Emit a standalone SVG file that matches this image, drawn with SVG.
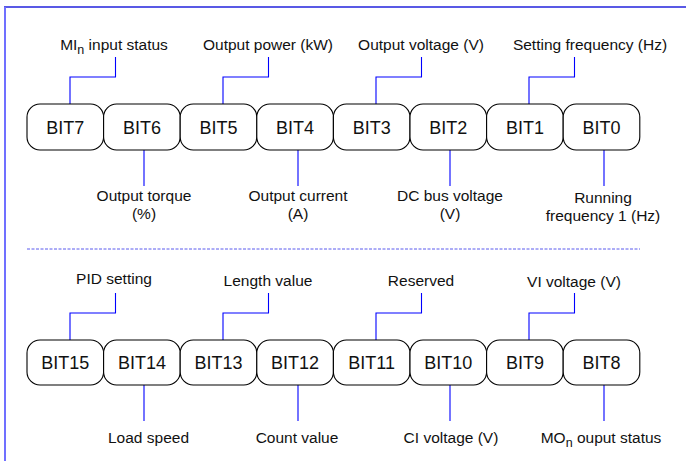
<svg xmlns="http://www.w3.org/2000/svg" width="686" height="461" viewBox="0 0 686 461">
<style>
.box{fill:#fff;stroke:#000;stroke-width:1.1}
.bt{font-family:"Liberation Sans",Arial,sans-serif;font-size:18px;fill:#111;text-anchor:middle}
.lb{font-family:"Liberation Sans",Arial,sans-serif;font-size:15.5px;fill:#111;text-anchor:middle}
.cn{fill:none;stroke:#0000ff;stroke-width:1.1}
</style>
<rect width="686" height="461" fill="#fff"/>
<g id="frame">
<line x1="4" y1="7" x2="686" y2="7" stroke="#2222dd" stroke-width="1.5"/>
<line x1="5" y1="7" x2="5" y2="461" stroke="#7070ff" stroke-width="2"/>
<line x1="27" y1="249" x2="640" y2="249" stroke="#5a5aee" stroke-width="1" stroke-dasharray="3,1.5"/>
</g>
<g id="connectors">
<path class="cn" d="M70,104V77H115.5V57"/>
<path class="cn" d="M223,104V77H268.5V57"/>
<path class="cn" d="M376,104V77H421.5V57"/>
<path class="cn" d="M529,104V77H574.5V57"/>
<path class="cn" d="M144,150V186"/>
<path class="cn" d="M298,150V186"/>
<path class="cn" d="M450,150V186"/>
<path class="cn" d="M604,150V186"/>
<path class="cn" d="M70,340V313H115.5V293"/>
<path class="cn" d="M223,340V313H268.5V293"/>
<path class="cn" d="M376,340V313H421.5V293"/>
<path class="cn" d="M529,340V313H574.5V293"/>
<path class="cn" d="M144,385V421"/>
<path class="cn" d="M298,385V421"/>
<path class="cn" d="M450,385V421"/>
<path class="cn" d="M604,385V421"/>
</g>
<g id="bit7"><rect class="box" x="27" y="104" width="76.6" height="46" rx="13"/><text class="bt" x="65.3" y="133.5">BIT7</text></g>
<g id="bit6"><rect class="box" x="103.6" y="104" width="76.6" height="46" rx="13"/><text class="bt" x="141.9" y="133.5">BIT6</text></g>
<g id="bit5"><rect class="box" x="180.2" y="104" width="76.6" height="46" rx="13"/><text class="bt" x="218.5" y="133.5">BIT5</text></g>
<g id="bit4"><rect class="box" x="256.8" y="104" width="76.6" height="46" rx="13"/><text class="bt" x="295.1" y="133.5">BIT4</text></g>
<g id="bit3"><rect class="box" x="333.4" y="104" width="76.6" height="46" rx="13"/><text class="bt" x="371.7" y="133.5">BIT3</text></g>
<g id="bit2"><rect class="box" x="410" y="104" width="76.6" height="46" rx="13"/><text class="bt" x="448.3" y="133.5">BIT2</text></g>
<g id="bit1"><rect class="box" x="486.6" y="104" width="76.6" height="46" rx="13"/><text class="bt" x="524.9" y="133.5">BIT1</text></g>
<g id="bit0"><rect class="box" x="563.2" y="104" width="76.6" height="46" rx="13"/><text class="bt" x="601.5" y="133.5">BIT0</text></g>
<g id="bit15"><rect class="box" x="27" y="340" width="76.6" height="45" rx="13"/><text class="bt" x="65.3" y="369">BIT15</text></g>
<g id="bit14"><rect class="box" x="103.6" y="340" width="76.6" height="45" rx="13"/><text class="bt" x="141.9" y="369">BIT14</text></g>
<g id="bit13"><rect class="box" x="180.2" y="340" width="76.6" height="45" rx="13"/><text class="bt" x="218.5" y="369">BIT13</text></g>
<g id="bit12"><rect class="box" x="256.8" y="340" width="76.6" height="45" rx="13"/><text class="bt" x="295.1" y="369">BIT12</text></g>
<g id="bit11"><rect class="box" x="333.4" y="340" width="76.6" height="45" rx="13"/><text class="bt" x="371.7" y="369">BIT11</text></g>
<g id="bit10"><rect class="box" x="410" y="340" width="76.6" height="45" rx="13"/><text class="bt" x="448.3" y="369">BIT10</text></g>
<g id="bit9"><rect class="box" x="486.6" y="340" width="76.6" height="45" rx="13"/><text class="bt" x="524.9" y="369">BIT9</text></g>
<g id="bit8"><rect class="box" x="563.2" y="340" width="76.6" height="45" rx="13"/><text class="bt" x="601.5" y="369">BIT8</text></g>
<g id="labels">
<text class="lb" x="114" y="50">MI<tspan font-size="12.5" dy="4">n</tspan><tspan dy="-4"> input status</tspan></text>
<text class="lb" x="268" y="50">Output power (kW)</text>
<text class="lb" x="421" y="50">Output voltage (V)</text>
<text class="lb" x="590" y="50">Setting frequency (Hz)</text>
<text class="lb" x="144" y="201">Output torque</text>
<text class="lb" x="144" y="219">(%)</text>
<text class="lb" x="298" y="201">Output current</text>
<text class="lb" x="298" y="219">(A)</text>
<text class="lb" x="450" y="201">DC bus voltage</text>
<text class="lb" x="450" y="219">(V)</text>
<text class="lb" x="603" y="203">Running</text>
<text class="lb" x="603" y="221">frequency 1 (Hz)</text>
<text class="lb" x="114" y="284">PID setting</text>
<text class="lb" x="268" y="286">Length value</text>
<text class="lb" x="421" y="286">Reserved</text>
<text class="lb" x="574" y="287">VI voltage (V)</text>
<text class="lb" x="148.5" y="443">Load speed</text>
<text class="lb" x="297" y="443">Count value</text>
<text class="lb" x="451" y="443">CI voltage (V)</text>
<text class="lb" x="601" y="443">MO<tspan font-size="12.5" dy="4">n</tspan><tspan dy="-4"> ouput status</tspan></text>
</g>
</svg>
